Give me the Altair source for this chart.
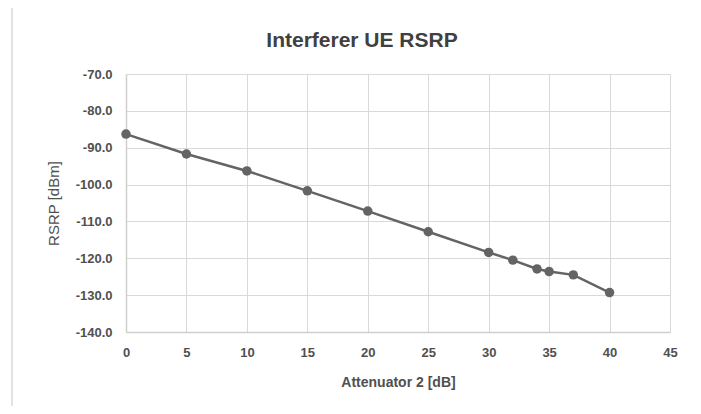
import altair as alt
import pandas as pd

attenuation = [0, 5, 10, 15, 20, 25, 30, 32, 34, 35, 37, 40]
rsrp = [-86.3, -91.7, -96.3, -101.7, -107.2, -112.8, -118.4, -120.5, -122.9, -123.6, -124.5, -129.3]
x_ticks = [0, 5, 10, 15, 20, 25, 30, 35, 40, 45]
y_ticks = [-140, -130, -120, -110, -100, -90, -80, -70]

df = pd.DataFrame({"att": attenuation, "rsrp": rsrp})

FONT = "Liberation Sans Narrow, Liberation Sans, sans-serif"
LINE = "#646464"

x_enc = alt.X("att:Q", scale=alt.Scale(domain=[0, 45], nice=False),
              axis=alt.Axis(values=x_ticks, title="Attenuator 2 [dB]", format="d",
                            labelFlush=False, labelOverlap=False))
y_enc = alt.Y("rsrp:Q", scale=alt.Scale(domain=[-140, -70], nice=False),
              axis=alt.Axis(values=y_ticks, title="RSRP [dBm]",
                            labelExpr="replace(format(datum.value, '.1f'), '\u2212', '-')",
                            labelOverlap=False, titleFontWeight="normal", titleFontSize=15))

base = alt.Chart(df).encode(x=x_enc, y=y_enc)
line = base.mark_line(color=LINE, strokeWidth=2.5)
pts = base.mark_circle(color=LINE, size=90, opacity=1)

frame = alt.Chart(pd.DataFrame({"k": [0]})).mark_rect(
    fill=None, stroke="#d9d9d9", strokeWidth=1.5
).encode(x=alt.value(-114), x2=alt.value(571), y=alt.value(-68), y2=alt.value(350))

chart = alt.layer(line, pts, frame).properties(
    width=544, height=258,
    autosize=alt.AutoSizeParams(type="none"),
    padding={"left": 118, "top": 66, "right": 23, "bottom": 74},
    title=alt.TitleParams("Interferer UE RSRP", fontSize=21, font=FONT, fontWeight="bold",
                          color="#404040", anchor="middle", dx=-36, offset=-46),
    background="white",
).configure_view(stroke=None).configure_axis(
    grid=True, gridColor="#d9d9d9", gridWidth=1, domainColor="#d0d0d0", domainWidth=1.5,
    ticks=False, labelFont=FONT, labelFontSize=13, labelFontWeight="bold", labelColor="#505050",
    titleFont=FONT, titleFontSize=14, titleFontWeight="bold", titleColor="#505050",
).configure_axisY(labelPadding=14, titlePadding=14).configure_axisX(labelPadding=14, titlePadding=16)

chart.save("out.html", embed_options={"renderer": "svg", "actions": False})
